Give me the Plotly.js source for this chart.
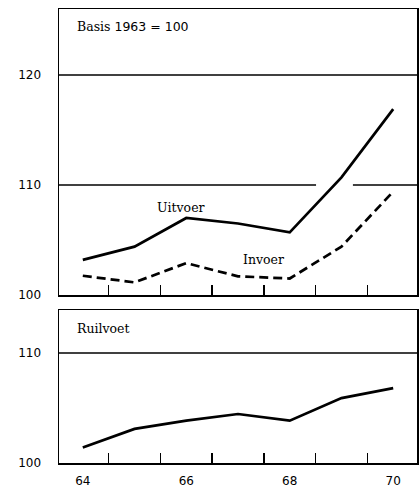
<!DOCTYPE html>
<html><head><meta charset="utf-8">
<script src="https://cdn.plot.ly/plotly-3.0.1.min.js"></script>
<style>body{margin:0;background:#fff}#chart{width:419px;height:490px}</style>
</head><body><div id="chart"></div>
<script>
const years = [64, 65, 66, 67, 68, 69, 70];
const uitvoer = [103.2, 104.4, 107.0, 106.5, 105.7, 110.7, 116.9];
const invoer = [101.75, 101.15, 102.9, 101.7, 101.5, 104.4, 109.4];
const ruilvoet = [101.4, 103.1, 103.85, 104.45, 103.85, 105.9, 106.8];
const halfYearTicks = [64.5, 65.5, 66.5, 67.5, 68.5, 69.5];
const xLabels = [64, 66, 68, 70];
const topTicks = [100, 110, 120];
const bottomTicks = [100, 110];

const tickFont = {family: 'DejaVu Sans', size: 12, color: '#000'};
const serif = {family: 'DejaVu Serif', size: 12.5, color: '#000'};

const traces = [
  {x: years, y: uitvoer, xaxis: 'x', yaxis: 'y', mode: 'lines', line: {color: '#000', width: 2.7}, hoverinfo: 'skip'},
  {x: years, y: invoer, xaxis: 'x', yaxis: 'y', mode: 'lines', line: {color: '#000', width: 2.7, dash: '9px,5px'}, hoverinfo: 'skip'},
  {x: years, y: ruilvoet, xaxis: 'x2', yaxis: 'y2', mode: 'lines', line: {color: '#000', width: 2.7}, hoverinfo: 'skip'}
];

const xr = [63.54, 70.46];
const layout = {
  width: 419, height: 490,
  margin: {l: 59, r: 2, t: 9, b: 27},
  paper_bgcolor: '#fff', plot_bgcolor: '#fff',
  showlegend: false,
  xaxis: {domain: [0, 1], range: xr, anchor: 'y', showgrid: false, zeroline: false,
    tickmode: 'array', tickvals: halfYearTicks, showticklabels: false,
    ticks: 'inside', ticklen: 10, tickwidth: 1.5, tickcolor: '#000',
    showline: true, linecolor: '#000', linewidth: 1.5, mirror: true},
  yaxis: {domain: [0.37, 1], range: [100, 126], anchor: 'x', showgrid: false, zeroline: false,
    tickmode: 'array', tickvals: topTicks, ticks: '', tickfont: tickFont, ticklabelstandoff: 14,
    showline: true, linecolor: '#000', linewidth: 1.5, mirror: true},
  xaxis2: {domain: [0, 1], range: xr, anchor: 'y2', showgrid: false, zeroline: false,
    tickmode: 'array', tickvals: xLabels, ticks: '', tickfont: tickFont, ticklabelstandoff: 6,
    minor: {tickmode: 'array', tickvals: halfYearTicks, ticks: 'inside', ticklen: 10, tickwidth: 1.5, tickcolor: '#000', showgrid: false},
    showline: true, linecolor: '#000', linewidth: 1.5, mirror: true},
  yaxis2: {domain: [0, 0.337], range: [100, 113.9], anchor: 'x2', showgrid: false, zeroline: false,
    tickmode: 'array', tickvals: bottomTicks, ticks: '', tickfont: tickFont, ticklabelstandoff: 14,
    showline: true, linecolor: '#000', linewidth: 1.5, mirror: true},
  shapes: [
    {type: 'line', xref: 'x domain', yref: 'y', x0: 0, x1: 1, y0: 120, y1: 120, line: {color: '#000', width: 1.5}},
    {type: 'line', xref: 'x domain', yref: 'y', x0: 0, x1: 0.718, y0: 110, y1: 110, line: {color: '#000', width: 1.5}},
    {type: 'line', xref: 'x domain', yref: 'y', x0: 0.821, x1: 1, y0: 110, y1: 110, line: {color: '#000', width: 1.5}},
    {type: 'line', xref: 'x2 domain', yref: 'y2', x0: 0, x1: 1, y0: 110, y1: 110, line: {color: '#000', width: 1.5}}
  ],
  annotations: [
    {text: 'Basis <span style="font-family:DejaVu Sans">1963 = 100</span>', xref: 'x domain', yref: 'y domain', x: 0.045, y: 0.94, xanchor: 'left', yanchor: 'middle', showarrow: false, font: serif},
    {text: 'Uitvoer', xref: 'x', yref: 'y', x: 65.9, y: 108.0, xanchor: 'center', yanchor: 'middle', showarrow: false, font: serif},
    {text: 'Invoer', xref: 'x', yref: 'y', x: 67.5, y: 103.2, xanchor: 'center', yanchor: 'middle', showarrow: false, font: serif},
    {text: 'Ruilvoet', xref: 'x2 domain', yref: 'y2 domain', x: 0.045, y: 0.88, xanchor: 'left', yanchor: 'middle', showarrow: false, font: serif}
  ]
};
Plotly.newPlot('chart', traces, layout, {staticPlot: true, displayModeBar: false});
</script></body></html>
